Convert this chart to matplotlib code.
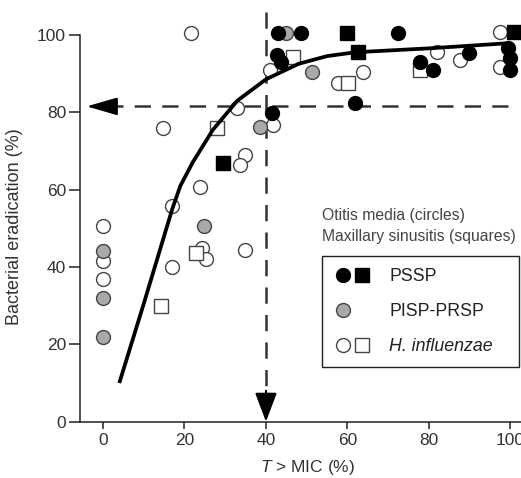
import matplotlib
matplotlib.use("Agg")
import matplotlib.pyplot as plt
from matplotlib.lines import Line2D
from matplotlib.legend_handler import HandlerTuple

plt.rcParams['font.family'] = ['Liberation Sans', 'DejaVu Sans']
plt.rcParams['mathtext.fontset'] = 'custom'
plt.rcParams['mathtext.rm'] = 'Liberation Sans'
plt.rcParams['mathtext.it'] = 'Liberation Sans:italic'

# PSSP, otitis media (black circles)
pssp_om_x = [41.6, 43.0, 48.7, 42.6, 43.8, 61.8, 72.5, 77.8, 81.1, 89.9, 99.5, 100.0, 100.0]
pssp_om_y = [79.7, 100.4, 100.4, 94.8, 93.0, 82.3, 100.4, 93.0, 90.8, 95.2, 96.5, 93.9, 90.9]

# PSSP, maxillary sinusitis (black squares)
pssp_ms_x = [29.5, 59.8, 62.7, 101.0]
pssp_ms_y = [66.8, 100.4, 95.6, 100.8]

# PISP-PRSP, otitis media (grey circles)
pisp_x = [0, 0, 0, 24.8, 38.5, 45.0, 51.2]
pisp_y = [44.0, 32.0, 22.0, 50.6, 76.2, 100.4, 90.4]

# H. influenzae, otitis media (open circles)
hi_om_x = [0, 0, 0, 17.0, 17.0, 24.2, 25.2, 34.8, 21.7, 14.7, 23.8, 34.8, 33.6,
           32.8, 41.8, 41.0, 57.7, 63.8, 81.9, 87.6, 97.5, 97.5]
hi_om_y = [50.5, 41.5, 37.0, 40.0, 55.7, 44.8, 42.0, 44.5, 100.4, 75.8, 60.7, 68.9, 66.3,
           81.0, 76.7, 90.9, 87.5, 90.4, 95.6, 93.6, 100.8, 91.7]

# H. influenzae, maxillary sinusitis (open squares)
hi_ms_x = [14.2, 22.9, 27.9, 46.7, 60.1, 77.8]
hi_ms_y = [29.9, 43.7, 75.8, 94.3, 87.5, 90.8]

# fitted curve
fit_x = [4, 10, 17, 19, 22, 27, 33, 40, 48, 55, 62, 80, 99]
fit_y = [10, 30.5, 55, 61, 67, 75.5, 83, 88.5, 92.5, 94.5, 95.5, 96.5, 97.8]

breakpoint_x = 40
breakpoint_y = 81.5

xticks = [0, 20, 40, 60, 80, 100]
yticks = [0, 20, 40, 60, 80, 100]

fig = plt.figure(figsize=(5.21, 4.78), dpi=100)
ax = fig.add_axes([80 / 521, (478 - 421.7) / 478, 441 / 521, 421.7 / 478])

edge = '#444444'
ms = 10
sq = 10.5
ax.plot(hi_om_x, hi_om_y, 'o', ms=ms, mfc='white', mec=edge, mew=1.0, zorder=3)
ax.plot(hi_ms_x, hi_ms_y, 's', ms=sq, mfc='white', mec=edge, mew=1.0, zorder=3)
ax.plot(pisp_x, pisp_y, 'o', ms=ms, mfc='#a9a9a9', mec=edge, mew=1.0, zorder=4)
ax.plot(pssp_om_x, pssp_om_y, 'o', ms=ms, mfc='black', mec='black', mew=1.0, zorder=4)
ax.plot(pssp_ms_x, pssp_ms_y, 's', ms=sq, mfc='black', mec='black', mew=1.0, zorder=4)

ax.plot(fit_x, fit_y, color='black', lw=2.7, solid_capstyle='butt', zorder=5)

# dashed guide lines with arrow heads
dash = dict(color='#333333', lw=1.8, dashes=(6.5, 4.5), zorder=2)
ax.plot([99.5, -1], [breakpoint_y, breakpoint_y], **dash)
ax.plot([breakpoint_x, breakpoint_x], [106, 4], **dash)
ax.annotate('', xy=(-4, breakpoint_y), xytext=(3, breakpoint_y),
            arrowprops=dict(arrowstyle='-|>,head_length=1.9,head_width=0.55',
                            color='black', lw=1.5, mutation_scale=10, shrinkA=0, shrinkB=0))
ax.annotate('', xy=(breakpoint_x, 0), xytext=(breakpoint_x, 8),
            arrowprops=dict(arrowstyle='-|>,head_length=1.8,head_width=0.68',
                            color='black', lw=1.5, mutation_scale=10, shrinkA=0, shrinkB=0))

ax.set_xlim(-5.65, 102.6)
ax.set_ylim(0, 109)
ax.spines['top'].set_visible(False)
ax.spines['right'].set_visible(False)
ax.spines['left'].set_bounds(0, 100)
for s in ('left', 'bottom'):
    ax.spines[s].set_linewidth(1.1)
    ax.spines[s].set_color('#222222')
ax.set_xticks(xticks)
ax.set_yticks(yticks)
ax.tick_params(axis='both', labelsize=12.5, labelcolor='#333333', color='#222222',
               width=1.1, direction='out')
ax.tick_params(axis='y', length=8, pad=2)
ax.tick_params(axis='x', length=5, pad=3)

ax.set_xlabel('$T$ > MIC (%)', fontsize=12.5, color='#333333')
ax.set_ylabel('Bacterial eradication (%)', fontsize=13, color='#333333')
ax.xaxis.set_label_coords(0.516, -0.085)
ax.yaxis.set_label_coords(-0.13, 0.462)

ax.text(0.548, 0.490, 'Otitis media (circles)', transform=ax.transAxes,
        fontsize=11.3, color='#444444', va='center', ha='left')
ax.text(0.548, 0.439, 'Maxillary sinusitis (squares)', transform=ax.transAxes,
        fontsize=11.3, color='#444444', va='center', ha='left')

h_pssp = (Line2D([], [], ls='', marker='o', ms=ms, mfc='black', mec='black'),
          Line2D([], [], ls='', marker='s', ms=sq, mfc='black', mec='black'))
h_pisp = (Line2D([], [], ls='', marker='o', ms=ms, mfc='#a9a9a9', mec=edge),
          Line2D([], [], ls='', marker=''))
h_hi = (Line2D([], [], ls='', marker='o', ms=ms, mfc='white', mec=edge),
        Line2D([], [], ls='', marker='s', ms=sq, mfc='white', mec=edge))
leg = ax.legend([h_pssp, h_pisp, h_hi], ['PSSP', 'PISP-PRSP', 'H. influenzae'],
                handler_map={tuple: HandlerTuple(ndivide=None, pad=0)},
                loc='upper left', bbox_to_anchor=(0.548, 0.0, 0.447, 0.393),
                mode='expand', borderaxespad=0,
                fontsize=12.8, frameon=True, fancybox=False, edgecolor='#222222',
                framealpha=1, borderpad=0.7, labelspacing=1.0, handlelength=2.1,
                handletextpad=1.0)
leg.get_frame().set_linewidth(1.0)
for t in leg.get_texts():
    t.set_color('#222222')
leg.get_texts()[2].set_fontstyle('italic')

fig.savefig('out.png', dpi=100)
